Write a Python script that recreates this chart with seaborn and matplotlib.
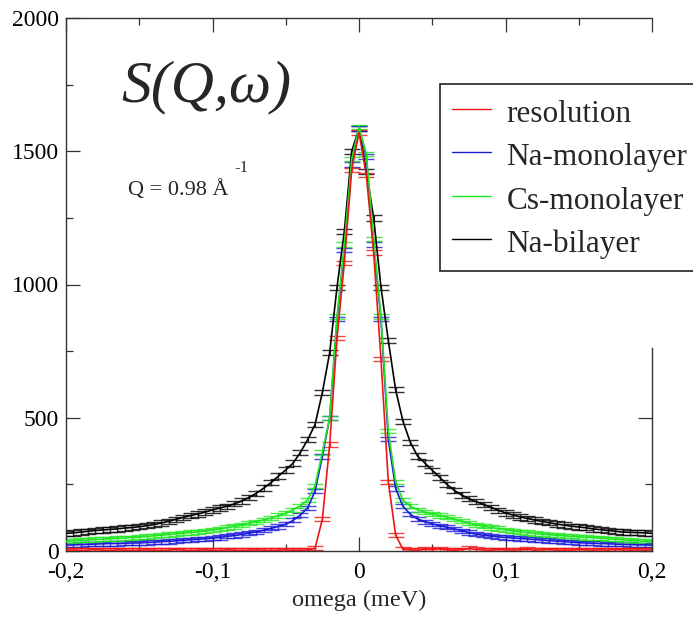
import numpy as np
import pandas as pd
import matplotlib
matplotlib.use("Agg")
import matplotlib.pyplot as plt
import seaborn as sns
from matplotlib.ticker import FixedLocator, FuncFormatter
from matplotlib.lines import Line2D

# ---------------- data ----------------
omega = [-0.200, -0.195, -0.190, -0.185, -0.180, -0.175, -0.170, -0.165, -0.160, -0.155,
         -0.150, -0.145, -0.140, -0.135, -0.130, -0.125, -0.120, -0.115, -0.110, -0.105,
         -0.100, -0.095, -0.090, -0.085, -0.080, -0.075, -0.070, -0.065, -0.060, -0.055,
         -0.050, -0.045, -0.040, -0.035, -0.030, -0.025, -0.020, -0.015, -0.010, -0.005,
         0.000,
         0.005, 0.010, 0.015, 0.020, 0.025, 0.030, 0.035, 0.040, 0.045, 0.050,
         0.055, 0.060, 0.065, 0.070, 0.075, 0.080, 0.085, 0.090, 0.095, 0.100,
         0.105, 0.110, 0.115, 0.120, 0.125, 0.130, 0.135, 0.140, 0.145, 0.150,
         0.155, 0.160, 0.165, 0.170, 0.175, 0.180, 0.185, 0.190, 0.195, 0.200]

resolution = [3, 4, 2, 3, 5, 3, 2, 4, 3, 2,
              3, 4, 3, 2, 3, 5, 3, 2, 3, 4,
              3, 2, 4, 3, 2, 3, 4, 3, 2, 3,
              4, 3, 3, 4, 10, 120, 400, 800, 1080, 1430,
              1570,
              1410, 1120, 720, 260, 60, 6, 4, 3, 6, 5,
              8, 4, 3, 5, 9, 6, 4, 3, 5, 4,
              3, 4, 6, 3, 4, 5, 3, 4, 3, 5,
              4, 3, 4, 3, 5, 4, 3, 4, 3, 4]

na_mono = [22, 23, 24, 25, 26, 27, 28, 28, 29, 30,
           30, 32, 33, 35, 36, 38, 40, 42, 44, 46,
           48, 51, 55, 58, 62, 67, 72, 78, 85, 92,
           100, 115, 135, 162, 225, 355, 500, 870, 1130, 1450,
           1585,
           1480, 1150, 870, 420, 235, 168, 138, 120, 110, 102,
           95, 89, 83, 76, 69, 63, 59, 56, 53, 51,
           49, 47, 45, 43, 41, 39, 37, 35, 33, 31,
           30, 29, 28, 27, 26, 25, 24, 23, 23, 22]

cs_mono = [36, 38, 40, 41, 43, 44, 46, 47, 49, 50,
           52, 54, 57, 59, 62, 64, 67, 69, 72, 75,
           79, 83, 88, 92, 97, 104, 110, 117, 124, 133,
           142, 155, 170, 192, 245, 370, 500, 880, 1150, 1470,
           1590,
           1490, 1170, 880, 450, 260, 190, 168, 155, 145, 138,
           133, 127, 119, 112, 105, 98, 93, 88, 84, 80,
           76, 72, 69, 66, 63, 61, 59, 57, 55, 53,
           51, 50, 48, 46, 44, 42, 40, 38, 36, 34]

na_bi = [66, 68, 71, 74, 77, 79, 81, 83, 86, 88,
         91, 95, 99, 105, 111, 119, 126, 133, 139, 146,
         154, 161, 168, 177, 188, 201, 217, 236, 257, 281,
         304, 330, 370, 418, 475, 595, 745, 990, 1200, 1500,
         1585,
         1425, 1250, 990, 790, 605, 487, 408, 356, 330, 303,
         277, 250, 228, 210, 196, 185, 175, 164, 153, 143,
         135, 128, 122, 116, 111, 106, 101, 97, 93, 90,
         87, 83, 80, 77, 74, 71, 70, 69, 68, 66]

series_names = ["resolution", "Na-monolayer", "Cs-monolayer", "Na-bilayer"]
series_values = [resolution, na_mono, cs_mono, na_bi]
series_errors = [8, 8, 8, 10]
series_colors = ["#f01414", "#1a1ad8", "#1ee61e", "#000000"]

x_ticks = [-0.2, -0.1, 0.0, 0.1, 0.2]
y_ticks = [0, 500, 1000, 1500, 2000]

df = pd.concat(
    [pd.DataFrame({"omega": omega, "S": vals, "series": name})
     for name, vals in zip(series_names, series_values)],
    ignore_index=True)

# ---------------- style ----------------
sns.set_theme(style="ticks")
plt.rcParams["font.family"] = ["Liberation Serif", "DejaVu Serif"]
plt.rcParams["axes.edgecolor"] = "#333333"
plt.rcParams["axes.linewidth"] = 1.0

fig = plt.figure(figsize=(6.93, 6.19), dpi=100)
ax = fig.add_axes([66 / 693, 1 - 551 / 619, (652 - 66) / 693, (551 - 18) / 619])

palette = dict(zip(series_names, series_colors))
draw_order = ["Na-bilayer", "Na-monolayer", "Cs-monolayer", "resolution"]

for name in draw_order:
    i = series_names.index(name)
    ax.errorbar(omega, series_values[i], yerr=series_errors[i], fmt="none",
                ecolor=series_colors[i], alpha=0.8, elinewidth=0.9,
                capsize=5.5, capthick=1.0, zorder=2)

sns.lineplot(data=df, x="omega", y="S", hue="series", hue_order=draw_order,
             palette=palette, estimator=None, sort=False, linewidth=1.2,
             legend=False, ax=ax, zorder=3)

ax.set_xlim(-0.2, 0.2)
ax.set_ylim(0, 2000)
ax.set_xticks(x_ticks)
ax.set_yticks(y_ticks)
ax.xaxis.set_minor_locator(FixedLocator([-0.15, -0.05, 0.05, 0.15]))
ax.yaxis.set_minor_locator(FixedLocator([250, 750, 1250, 1750]))
ax.xaxis.set_major_formatter(FuncFormatter(
    lambda v, p: "0" if abs(v) < 1e-9 else f"{v:.1f}".replace(".", ",")))
ax.tick_params(which="both", direction="in", top=True, right=False,
               colors="#333333", labelcolor="black", labelsize=17)
ax.tick_params(which="major", length=10, width=0.9)
ax.tick_params(which="minor", length=5, width=0.9)
ax.tick_params(axis="x", which="major", pad=8)
ax.tick_params(axis="y", which="major", pad=5)
ax.set_xlabel("omega (meV)", fontsize=17.5, labelpad=5)
ax.set_ylabel("")

# partial right spine (reference shows it only at the bottom)
ax.spines["right"].set_visible(False)
ax2 = ax.twinx()
ax2.set_ylim(0, 2000)
ax2.set_yticks([0, 500])
ax2.yaxis.set_minor_locator(FixedLocator([250]))
ax2.tick_params(which="both", direction="in", labelright=False, colors="#333333")
ax2.tick_params(which="major", length=10, width=0.9)
ax2.tick_params(which="minor", length=5, width=0.9)
for s in ["left", "top", "bottom"]:
    ax2.spines[s].set_visible(False)
ax2.spines["right"].set_bounds(0, 760)
ax2.grid(False)

# annotations
ax.text(0.095, 0.87, "S(Q,ω)", transform=ax.transAxes, fontsize=43,
        style="italic", ha="left", va="center")
ax.text(0.106, 0.668, "Q = 0.98 Å", transform=ax.transAxes, fontsize=16,
        ha="left", va="baseline")
ax.text(0.288, 0.712, "-1", transform=ax.transAxes, fontsize=12,
        ha="left", va="baseline")

# legend
handles = [Line2D([], [], color=c, lw=1.0) for c in series_colors]
leg = fig.legend(handles, series_names, loc="upper left",
                 bbox_to_anchor=(440 / 693, 1 - 84 / 619),
                 bbox_transform=fig.transFigure, borderaxespad=0,
                 fontsize=22.5, frameon=True, fancybox=False, framealpha=1,
                 edgecolor="#222222", handlelength=1.25, handletextpad=0.5,
                 handleheight=1.1, borderpad=0.38, labelspacing=0.35)
leg.get_frame().set_linewidth(1.2)

fig.savefig("out.png", dpi=100, facecolor="white")
